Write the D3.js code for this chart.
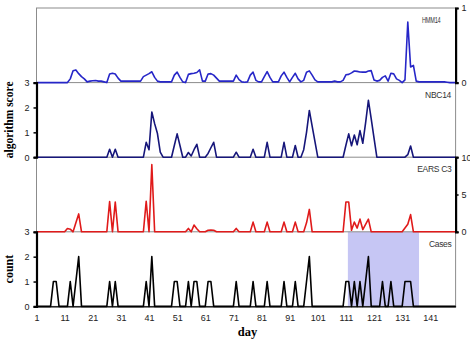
<!DOCTYPE html>
<html><head><meta charset="utf-8">
<script src="https://cdn.jsdelivr.net/npm/d3@7"></script>
<style>body{margin:0;background:#fff}svg{display:block}</style>
</head><body>
<script>
// ---------- DATA ----------
const dayStart = 1, dayEnd = 150;
const xTicks = [1, 11, 21, 31, 41, 51, 61, 71, 81, 91, 101, 111, 121, 131, 141];
// daily values, day 1..150 (sparse: unspecified days are 0)
const hmm14 = {13:0.05,14:0.16,15:0.17,16:0.12,17:0.08,18:0.05,19:0.01,20:0.02,21:0.025,22:0.027,23:0.02,24:0.02,25:0.01,26:0,
  27:0.115,28:0.125,29:0.115,30:0.06,31:0.02,32:0.02,33:0.02,34:0.02,35:0.02,36:0.02,37:0.02,38:0.02,39:0.08,40:0.1,41:0.12,42:0.145,43:0.07,44:0.02,
  45:0.01,46:0.01,47:0.01,48:0.01,49:0.01,50:0.1,51:0.14,52:0.07,53:0.01,54:0,55:0.11,56:0.12,57:0.125,58:0.135,59:0.17,60:0.02,61:0.02,
  62:0.115,63:0.12,64:0.1,65:0.06,66:0.02,67:0.02,68:0.02,69:0.02,70:0.02,71:0.02,72:0.1,73:0.04,74:0.01,75:0.005,76:0.01,77:0.1,78:0.14,79:0.03,
  80:0.01,81:0.01,82:0.08,83:0.147,84:0.07,85:0.01,86:0.01,87:0.01,88:0.09,89:0.14,90:0.07,91:0.01,92:0.07,93:0.125,94:0.05,95:0.01,96:0.03,
  97:0.14,98:0.157,99:0.1,100:0.036,101:0.01,102:0.01,103:0.01,104:0.01,105:0.01,106:0.01,107:0.02,108:0.01,109:0.01,110:0.03,111:0.105,
  112:0.11,113:0.13,114:0.155,115:0.15,116:0.143,117:0.14,118:0.14,119:0.155,120:0.16,121:0.036,122:0.02,123:0.03,124:0.07,125:0.09,126:0.02,
  127:0.125,128:0.117,129:0.05,130:0.03,131:0,132:0.036,133:0.81,134:0.21,135:0.23,136:0.02,137:0.01,138:0.01,139:0.01,140:0.01,141:0.01,
  142:0.01,143:0.01,144:0.01,145:0.01,146:0.01,147:0.005};
const nbc14 = {27:0.32,29:0.32,40:0.6,41:0.3,42:1.82,43:1.35,44:0.95,45:0.2,50:0.47,51:0.94,52:0.47,55:0.19,56:0.05,57:0.3,58:0.52,
  62:0.15,63:0.38,64:0.6,72:0.2,78:0.32,83:0.6,89:0.6,93:0.47,96:0.3,97:1.0,98:1.88,99:1.25,100:0.63,
  111:0.48,112:0.94,113:0.46,114:0.89,115:0.5,116:1.07,117:0.56,118:1.38,119:2.29,120:1.54,121:0.77,133:0.1,134:0.45};
const earsC3 = {12:0.45,13:0.35,15:1.2,16:2.4,27:4.05,29:4.0,40:4.1,42:9.0,55:0.45,57:0.9,58:0.4,62:0.2,63:0.25,64:0.2,72:0.45,
  78:1.3,83:1.3,89:1.3,93:1.3,97:1.2,98:3.0,111:4.0,112:4.0,113:0.2,114:1.3,115:0.5,116:1.7,117:0.3,118:1.0,119:1.7,
  132:0.5,133:1.0,134:2.3};
const cases = {7:1,8:1,13:1,15:1,16:2,27:1,29:1,40:1,42:2,50:1,51:1,55:1,57:1,58:1,62:1,63:1,72:1,78:1,83:1,89:1,93:1,
  97:1,98:2,111:1,112:1,114:1,116:1,118:1,119:2,124:1,127:1,132:1,133:1,134:1};
const outbreakWindow = [111.7, 137];
const panelNames = ["HMM14", "NBC14", "EARS C3", "Cases"];

// ---------- LAYOUT ----------
const W = 470, H = 342;
const mLeft = 36.5, mRight = 455.6, mTop = 8, ph = 74.6;
const svg = d3.select("body").append("svg").attr("width", W).attr("height", H);
const x = d3.scaleLinear().domain([dayStart, dayEnd]).range([mLeft, mRight]);
const days = d3.range(dayStart, dayEnd + 1);
const series = (obj) => days.map(d => ({d, v: obj[d] || 0}));

const panels = [
  {name: panelNames[0], data: series(hmm14), max: 1, ticks: [0, 1], side: "right", color: "#2626c8", labelEnd: 440.5, labelLen: 18.5},
  {name: panelNames[1], data: series(nbc14), max: 3, ticks: [0, 1, 2, 3], side: "left", color: "#16167a", labelEnd: 451},
  {name: panelNames[2], data: series(earsC3), max: 10, ticks: [0, 5, 10], side: "right", color: "#e01a1a", labelEnd: 451.5},
  {name: panelNames[3], data: series(cases), max: 3, ticks: [0, 1, 2, 3], side: "left", color: "#000", labelEnd: 451.5}
];

const font = "'Liberation Sans', Arial, sans-serif";
panels.forEach((p, i) => {
  const y0 = mTop + ph * (i + 1), y1 = mTop + ph * i;
  const y = d3.scaleLinear().domain([0, p.max]).range([y0, y1]);
  p.y = y;
  if (i === 3) {
    svg.append("rect").attr("x", x(outbreakWindow[0])).attr("y", y1)
      .attr("width", x(outbreakWindow[1]) - x(outbreakWindow[0])).attr("height", y0 - y1)
      .attr("fill", "#c6c6f4");
  }
});
// frame
svg.append("rect").attr("x", mLeft).attr("y", mTop).attr("width", mRight - mLeft).attr("height", ph * 4)
  .attr("fill", "none").attr("stroke", "#8c8c8c").attr("stroke-width", 1);
for (let i = 1; i < 4; i++) {
  svg.append("line").attr("x1", mLeft).attr("x2", mRight).attr("y1", mTop + ph * i).attr("y2", mTop + ph * i)
    .attr("stroke", "#8c8c8c").attr("stroke-width", 1);
}
panels.forEach((p, i) => {
  const line = d3.line().x(d => x(d.d)).y(d => p.y(d.v));
  svg.append("path").datum(p.data).attr("d", line).attr("fill", "none")
    .attr("stroke", p.color).attr("stroke-width", 1.6).attr("stroke-linejoin", "round");
  const ax = p.side === "left" ? d3.axisLeft(p.y) : d3.axisRight(p.y);
  ax.tickValues(p.ticks).tickSize(3).tickPadding(p.side === "left" ? 4 : 3).tickFormat(d3.format("d"));
  const g = svg.append("g").attr("transform", `translate(${p.side === "left" ? mLeft : mRight},0)`).call(ax);
  g.select(".domain").attr("stroke", "#000").attr("stroke-width", 2.2);
  g.selectAll(".tick line").attr("stroke", "#000").attr("stroke-width", 1.5);
  g.selectAll("text").attr("font-family", font).attr("font-size", 9).attr("fill", "#222");
  const t = svg.append("text").attr("x", p.labelEnd).attr("y", mTop + ph * i + 15).attr("text-anchor", "end")
    .attr("font-family", font).attr("font-size", 8.5).attr("fill", "#333").attr("letter-spacing", -0.3).text(p.name);
  if (p.labelLen) t.attr("textLength", p.labelLen).attr("lengthAdjust", "spacingAndGlyphs");
});
// x axis
const gx = svg.append("g").attr("transform", `translate(0,${mTop + ph * 4})`)
  .call(d3.axisBottom(x).tickValues(xTicks).tickSizeInner(0).tickSizeOuter(0).tickPadding(8));
gx.select(".domain").attr("stroke", "#000").attr("stroke-width", 1.2);
gx.selectAll("text").attr("font-family", font).attr("font-size", 9).attr("fill", "#222");

const serif = "'Liberation Serif', 'Times New Roman', serif";
svg.append("text").attr("transform", `translate(12.5,${mTop + ph * 1.5}) rotate(-90)`).attr("text-anchor", "middle")
  .attr("font-family", serif).attr("font-weight", "bold").attr("font-size", 11.5).text("algorithm score");
svg.append("text").attr("transform", `translate(12.5,${mTop + ph * 3.5}) rotate(-90)`).attr("text-anchor", "middle")
  .attr("font-family", serif).attr("font-weight", "bold").attr("font-size", 12).text("count");
svg.append("text").attr("x", 247.5).attr("y", 336).attr("text-anchor", "middle")
  .attr("font-family", serif).attr("font-weight", "bold").attr("font-size", 12.5).text("day");
</script>
</body></html>
